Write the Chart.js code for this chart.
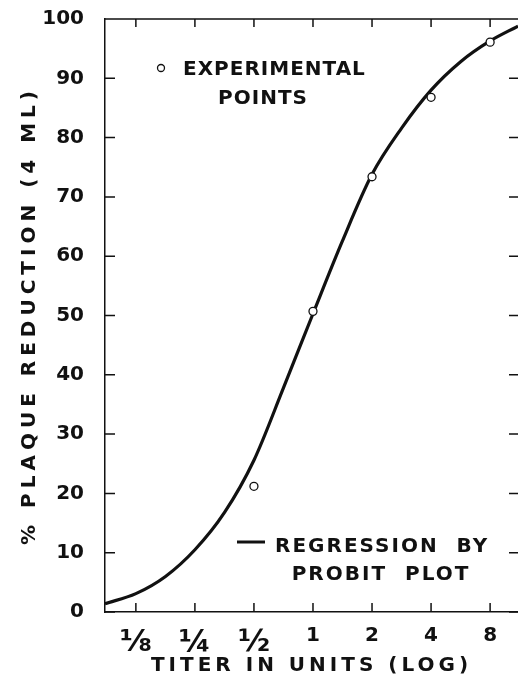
<!DOCTYPE html>
<html>
<head>
<meta charset="utf-8">
<script src="https://cdn.jsdelivr.net/npm/chart.js@4.4.1/dist/chart.umd.min.js"></script>
<style>
  html, body { margin: 0; padding: 0; background: #fff; overflow: hidden; }
  #wrap { width: 518px; height: 684px; position: relative; }
  canvas { display: block; }
</style>
</head>
<body>
<div id="wrap"><canvas id="probitChart"></canvas></div>
<script>
// x axis: titer in units, log spaced
const titerTicks = [0.125, 0.25, 0.5, 1, 2, 4, 8];
const titerLabels = ['⅛', '¼', '½', '1', '2', '4', '8'];
const titerMin = 0.087;
const titerMax = 11.1;

// y axis: % plaque reduction
const yTicks = [0, 10, 20, 30, 40, 50, 60, 70, 80, 90, 100];

// experimental points
const expTiter = [0.5, 1, 2, 4, 8];
const expReduction = [21.2, 50.7, 73.4, 86.8, 96.1];

// regression by probit plot
const fitTiter = [0.087, 0.125, 0.177, 0.25, 0.354, 0.5, 0.707, 1, 1.41, 2, 2.83, 4, 5.66, 8, 11.1];
const fitReduction = [1.4, 3.1, 6.0, 10.5, 16.8, 25.6, 37.8, 50.3, 62.5, 73.8, 81.6, 88.0, 92.8, 96.3, 98.8];

const ink = '#111';
Chart.defaults.font.family = '"DejaVu Sans", sans-serif';
Chart.defaults.color = ink;

// plot runs off the right edge of the page (no right frame line)
const fullWidth = {
  id: 'fullWidth',
  afterLayout(chart) {
    const x = chart.scales.x;
    const a = chart.chartArea;
    a.right = chart.width;
    a.width = a.right - a.left;
    x.right = chart.width;
    x.width = x.right - x.left;
    x.configure();
  }
};

// inward tick marks + top frame line
const frameTicks = {
  id: 'frameTicks',
  beforeDatasetsDraw(chart) {
    const { ctx, chartArea: a, scales: { x, y } } = chart;
    ctx.save();
    ctx.strokeStyle = ink;
    ctx.lineWidth = 1.5;
    ctx.beginPath();
    ctx.moveTo(a.left, a.top);
    ctx.lineTo(a.right, a.top);
    y.ticks.forEach(t => {
      const py = y.getPixelForValue(t.value);
      ctx.moveTo(a.left, py); ctx.lineTo(a.left + 10, py);
      ctx.moveTo(a.right, py); ctx.lineTo(a.right - 9, py);
    });
    x.ticks.forEach(t => {
      const px = x.getPixelForValue(t.value);
      ctx.moveTo(px, a.bottom); ctx.lineTo(px, a.bottom - 9);
      ctx.moveTo(px, a.top); ctx.lineTo(px, a.top + 8);
    });
    ctx.stroke();
    ctx.restore();
  }
};

// wider letter spacing for the axis titles
const spacedTitles = {
  id: 'spacedTitles',
  afterLayout(chart) {
    Object.values(chart.scales).forEach(s => {
      if (s._spaced) return;
      const orig = s.drawTitle.bind(s);
      const gap = s.axis === 'y' ? '5px' : '4px';
      s.drawTitle = function () {
        this.ctx.save();
        this.ctx.letterSpacing = gap;
        orig();
        this.ctx.restore();
      };
      s._spaced = true;
    });
  }
};

// the two in-plot legend notes
const notes = {
  id: 'notes',
  afterDraw(chart) {
    const { ctx, chartArea: a } = chart;
    ctx.save();
    ctx.fillStyle = ink;
    ctx.strokeStyle = ink;
    ctx.font = 'bold 20px "DejaVu Sans"';
    ctx.textBaseline = 'middle';
    ctx.letterSpacing = '1px';

    // o EXPERIMENTAL POINTS
    ctx.lineWidth = 1.3;
    ctx.beginPath();
    ctx.arc(a.left + 56, a.top + 49, 3.5, 0, Math.PI * 2);
    ctx.stroke();
    ctx.textAlign = 'left';
    ctx.fillText('EXPERIMENTAL', a.left + 78, a.top + 51);
    ctx.textAlign = 'center';
    ctx.fillText('POINTS', a.left + 158, a.top + 80);

    // — REGRESSION BY PROBIT PLOT
    ctx.lineWidth = 3;
    ctx.beginPath();
    ctx.moveTo(a.left + 132, a.bottom - 70);
    ctx.lineTo(a.left + 160, a.bottom - 70);
    ctx.stroke();
    ctx.letterSpacing = '2px';
    ctx.textAlign = 'left';
    ctx.fillText('REGRESSION  BY', a.left + 170, a.bottom - 65);
    ctx.textAlign = 'center';
    ctx.fillText('PROBIT  PLOT', a.left + 276, a.bottom - 37);
    ctx.restore();
  }
};

new Chart(document.getElementById('probitChart'), {
  type: 'scatter',
  data: {
    datasets: [
      {
        label: 'Experimental points',
        data: expTiter.map((t, i) => ({ x: t, y: expReduction[i] })),
        pointRadius: 4,
        pointBackgroundColor: '#fff',
        pointBorderColor: ink,
        pointBorderWidth: 1.3,
        showLine: false
      },
      {
        type: 'line',
        label: 'Regression by probit plot',
        data: fitTiter.map((t, i) => ({ x: t, y: fitReduction[i] })),
        borderColor: ink,
        borderWidth: 3.2,
        pointRadius: 0,
        cubicInterpolationMode: 'monotone',
        fill: false
      }
    ]
  },
  options: {
    responsive: true,
    maintainAspectRatio: false,
    animation: false,
    devicePixelRatio: 1,
    layout: { padding: { top: 19, right: 0, left: 0, bottom: 0 } },
    plugins: { legend: { display: false }, tooltip: { enabled: false } },
    scales: {
      x: {
        type: 'logarithmic',
        min: titerMin,
        max: titerMax,
        afterBuildTicks: s => { s.ticks = titerTicks.map(v => ({ value: v })); },
        afterFit: s => { s.height = 72; },
        grid: { display: false, drawTicks: true, tickLength: 12 },
        border: { display: true, color: ink, width: 1.5 },
        ticks: {
          autoSkip: false,
          maxRotation: 0,
          padding: 0,
          color: ink,
          font: ctx => (ctx.index < 3 ? { size: 31, weight: 'bold' } : { size: 20, weight: 'bold' }),
          callback: (v, i) => titerLabels[i]
        },
        title: {
          display: true,
          text: 'TITER IN UNITS (LOG)',
          color: ink,
          font: { size: 20, weight: 'bold' },
          padding: { top: 6, bottom: 6 }
        }
      },
      y: {
        min: 0,
        max: 100,
        afterBuildTicks: s => { s.ticks = yTicks.map(v => ({ value: v })); },
        afterFit: s => { s.width = 105; },
        grid: { display: false, drawTicks: true, tickLength: 21 },
        border: { display: true, color: ink, width: 1.5 },
        ticks: {
          padding: 0,
          color: ink,
          font: { size: 20, weight: 'bold' }
        },
        title: {
          display: true,
          text: '% PLAQUE REDUCTION (4 ML)',
          color: ink,
          font: { size: 20, weight: 'bold' },
          padding: { top: 18, bottom: 18 }
        }
      }
    }
  },
  plugins: [fullWidth, frameTicks, spacedTitles, notes]
});
</script>
</body>
</html>
